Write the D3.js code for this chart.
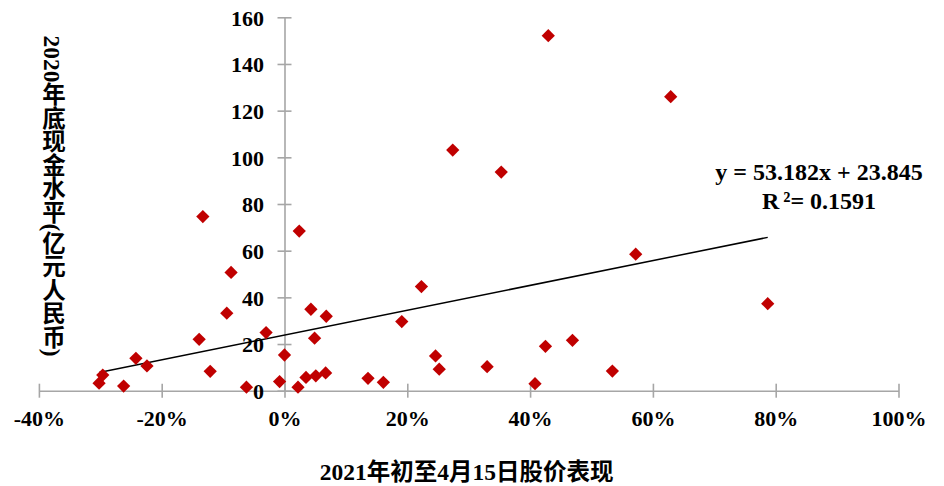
<!DOCTYPE html>
<html>
<head>
<meta charset="utf-8">
<script src="https://cdn.jsdelivr.net/npm/d3@7"></script>
<style>
  html, body { margin: 0; padding: 0; background: #fff; }
  svg { display: block; }
  svg text { font-family: "Liberation Serif", "Times New Roman", Tinos, "DejaVu Serif", "Noto Sans CJK SC", serif; font-weight: 700; fill: #000; }
</style>
</head>
<body>
<svg id="chart" width="944" height="486"></svg>
<script>
// ---- data ----
const xTicks = [-0.4, -0.2, 0, 0.2, 0.4, 0.6, 0.8, 1.0];
const xTickLabels = ["-40%", "-20%", "0%", "20%", "40%", "60%", "80%", "100%"];
const yTicks = [0, 20, 40, 60, 80, 100, 120, 140, 160];
const yTickLabels = ["0", "20", "40", "60", "80", "100", "120", "140", "160"];

// 2021年初至4月15日股价表现 (fraction)
const stockPerf = [
  0.4296, 0.629, 0.274, 0.353, -0.133, 0.024, -0.087, 0.572, 0.787, 0.223,
  0.043, -0.094, 0.068, 0.191, -0.030, -0.139, 0.049, 0.425, 0.469, 0.000,
  0.246, -0.242, -0.224, -0.121, 0.252, 0.330, 0.534, -0.296, -0.302, -0.262,
  -0.062, -0.008, 0.022, 0.035, 0.051, 0.067, 0.136, 0.161, 0.408
];
// 2020年底现金水平 (亿元人民币)
const cashLevel = [
  152.1, 126.0, 103.1, 93.7, 74.6, 68.4, 50.7, 58.5, 37.3, 44.6,
  34.9, 33.2, 31.9, 29.6, 24.9, 22.0, 22.5, 19.0, 21.6, 15.3,
  14.9, 13.9, 10.6, 8.3, 9.2, 10.3, 8.4, 6.7, 3.2, 2.0,
  1.5, 3.9, 1.5, 5.7, 6.4, 7.6, 5.3, 3.6, 3.0
];
const trendCoef = [53.182, 23.845]; // slope, intercept
const equationText = "y = 53.182x + 23.845";
const r2Parts = ["R", "²", "= 0.1591"];
const xTitle = "2021年初至4月15日股价表现";
const yTitle = "2020年底现金水平(亿元人民币)";

// ---- chart ----
const svg = d3.select("#chart");
const x = d3.scaleLinear().domain([-0.4, 1.0]).range([38.9, 898.5]);
const y = d3.scaleLinear().domain([0, 160]).range([390.7, 17.3]);
const axisColor = "#A6A6A6";
const FONT = "'Liberation Serif', 'Times New Roman', Tinos, 'DejaVu Serif', 'Noto Sans CJK SC', serif";

// x axis
const gx = svg.append("g").attr("transform", `translate(0,${y(0)})`)
  .call(d3.axisBottom(x).tickValues(xTicks).tickSizeOuter(0).tickSizeInner(7)
    .tickFormat((d, i) => xTickLabels[i]));
gx.attr("font-family", null).attr("font-size", null);
gx.select(".domain").attr("stroke", axisColor).attr("stroke-width", 1.6);
gx.selectAll(".tick line").attr("stroke", axisColor).attr("stroke-width", 1.6).attr("y1", -7).attr("y2", 7);
gx.selectAll(".tick text").attr("y", 35).attr("dy", 0)
  .style("font-size", "22px").style("font-family", FONT).style("font-weight", "700");

// y axis
const gy = svg.append("g").attr("transform", `translate(${x(0)},0)`)
  .call(d3.axisLeft(y).tickValues(yTicks).tickSizeOuter(0).tickSizeInner(7)
    .tickFormat((d, i) => yTickLabels[i]));
gy.attr("font-family", null).attr("font-size", null);
gy.select(".domain").attr("stroke", axisColor).attr("stroke-width", 1.6);
gy.selectAll(".tick line").attr("stroke", axisColor).attr("stroke-width", 1.6).attr("x1", -7).attr("x2", 7);
gy.selectAll(".tick text").attr("x", -20.5).attr("dy", "0.36em")
  .style("font-size", "22px").style("font-family", FONT).style("font-weight", "700");

// trend line
const xMin = d3.min(stockPerf), xMax = d3.max(stockPerf);
svg.append("line")
  .attr("x1", x(xMin)).attr("y1", y(trendCoef[0] * xMin + trendCoef[1]))
  .attr("x2", x(xMax)).attr("y2", y(trendCoef[0] * xMax + trendCoef[1]))
  .attr("stroke", "#000").attr("stroke-width", 1.5);

// points
const sym = d3.symbol().type(d3.symbolSquare).size(88);
svg.append("g").selectAll("path").data(stockPerf.map((v, i) => [v, cashLevel[i]]))
  .join("path")
  .attr("d", sym)
  .attr("transform", d => `translate(${x(d[0])},${y(d[1])}) rotate(45)`)
  .attr("fill", "#C00000");

// equation
svg.append("text").attr("x", 819).attr("y", 180).attr("text-anchor", "middle")
  .style("font-family", FONT).style("font-size", "24px").text(equationText);
const r2 = svg.append("text").attr("x", 819).attr("y", 209).attr("text-anchor", "middle")
  .style("font-family", FONT).style("font-size", "24px");
r2.append("tspan").text(r2Parts[0]);
r2.append("tspan").attr("dx", 4).text(r2Parts[1]);
r2.append("tspan").text(r2Parts[2]);

// axis titles
svg.append("text").attr("x", (x.range()[0] + x.range()[1]) / 2 - 2).attr("y", 480)
  .attr("text-anchor", "middle").style("font-family", FONT).style("font-size", "23.5px").text(xTitle);

svg.append("text").attr("x", 52).attr("y", 196)
  .attr("text-anchor", "middle")
  .style("writing-mode", "vertical-rl")
  .style("font-family", FONT)
  .style("font-size", "23.5px")
  .text(yTitle);
</script>
</body>
</html>
